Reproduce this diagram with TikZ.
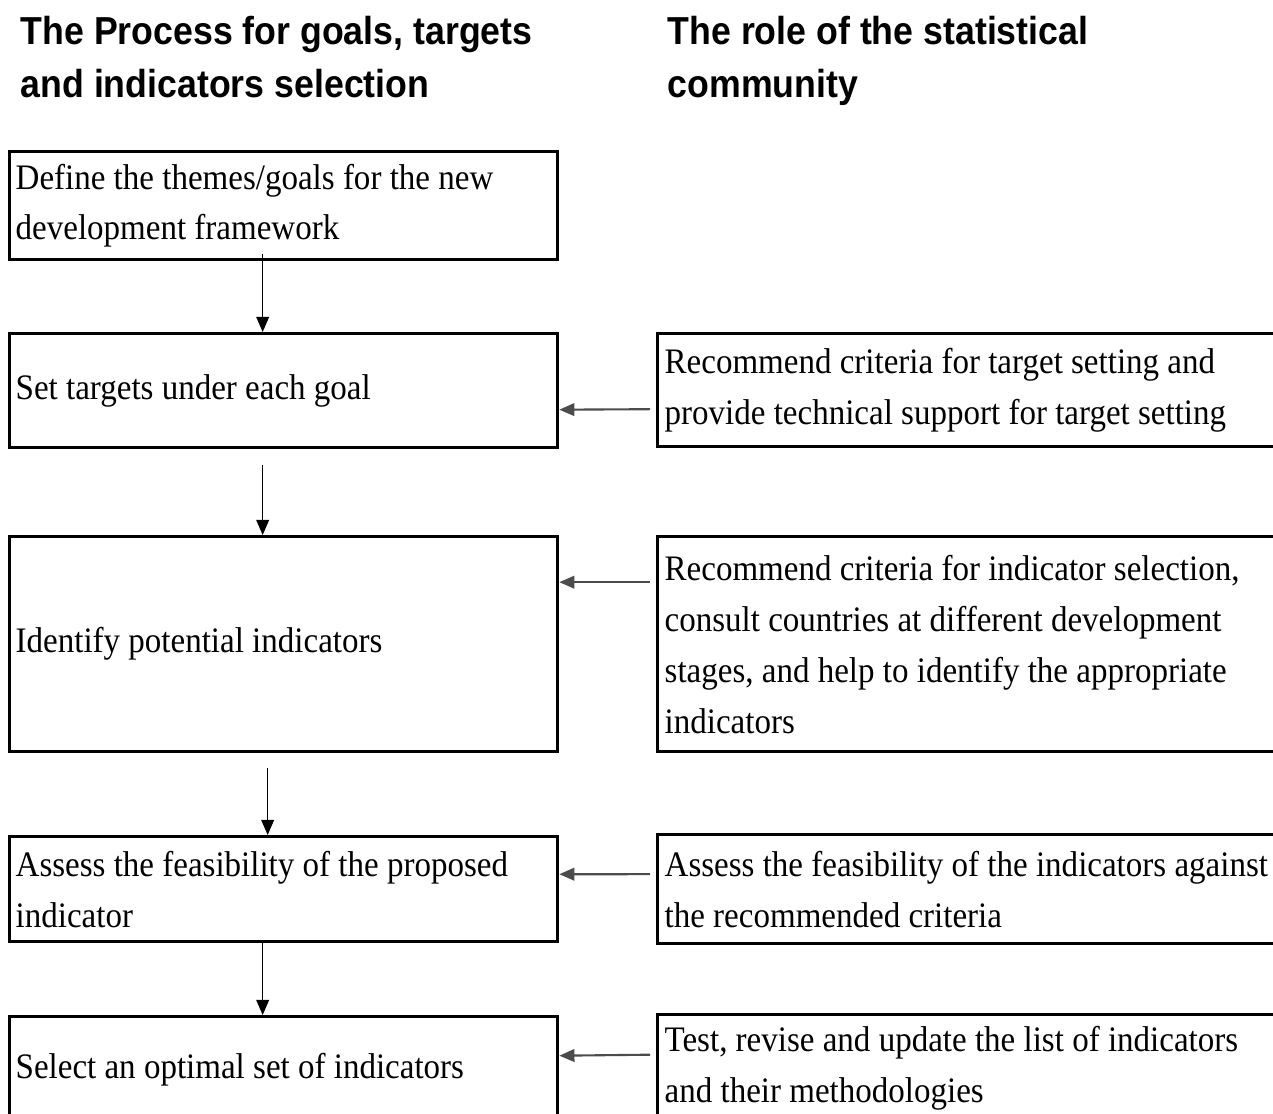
\documentclass[tikz,border=0pt]{standalone}
\usepackage{fontspec}
\setmainfont{Liberation Serif}[FakeStretch=0.921]
\newfontfamily\headfont{Liberation Sans}[FakeStretch=0.915]
\usetikzlibrary{arrows.meta}

\tikzset{
	procbox/.style={draw, line width=0.95pt, anchor=north west, align=flush left,
		text width=5.36cm, inner xsep=0.6mm, inner ysep=0pt,
		font=\fontsize{10.2}{14.5}\selectfont},
	rolebox/.style={procbox, text width=6.26cm, inner xsep=0.7mm},
	head/.style={anchor=base west, align=left, inner sep=0pt,
		font=\headfont\bfseries\fontsize{11.1}{14.8}\selectfont},
	flow/.style={-{Triangle[length=4.3pt,width=3.6pt]}, line width=0.45pt},
	feed/.style={flow, draw=black!70, line width=0.6pt},
}

\begin{document}
\begin{tikzpicture}
	\useasboundingbox (0,0) rectangle (12.73,-11.13) ;
		\node[head] (h1) at (0.20,-0.97) {The Process for goals, targets\\and indicators selection} ;
		\node[head] (h2) at (6.67,-0.97) {The role of the statistical\\community} ;
		\node[procbox, minimum height=1.08cm] (b1) at (0.08,-1.50) {Define the themes/goals for the new\\development framework} ;
		\node[procbox, minimum height=1.14cm] (b2) at (0.08,-3.32) {Set targets under each goal} ;
		\node[procbox, minimum height=2.15cm] (b3) at (0.08,-5.35) {Identify potential indicators} ;
		\node[procbox, minimum height=1.05cm] (b4) at (0.08,-8.35) {Assess the feasibility of the proposed\\indicator} ;
		\node[procbox, minimum height=1.06cm] (b5) at (0.08,-10.15) {Select an optimal set of indicators} ;
		\node[rolebox, minimum height=1.13cm] (r2) at (6.56,-3.32) {Recommend criteria for target setting and\\provide technical support for target setting} ;
		\node[rolebox, minimum height=2.15cm] (r3) at (6.56,-5.35) {Recommend criteria for indicator selection,\\consult countries at different development\\stages, and help to identify the appropriate\\indicators} ;
		\node[rolebox, minimum height=1.09cm] (r4) at (6.56,-8.33) {Assess the feasibility of the indicators against\\the recommended criteria} ;
		\node[rolebox, minimum height=1.08cm] (r5) at (6.56,-10.13) {Test, revise and update the list of indicators\\and their methodologies} ;
	\draw[flow] ([xshift=-2.1mm,yshift=0.7mm]b1.south) -- ([xshift=-2.1mm]b2.north) ;
	\draw[flow] ([xshift=-2.1mm,yshift=-1.6mm]b2.south) -- ([xshift=-2.1mm]b3.north) ;
	\draw[flow] ([xshift=-1.6mm,yshift=-1.5mm]b3.south) -- ([xshift=-1.6mm]b4.north) ;
	\draw[flow] ([xshift=-2.1mm]b4.south) -- ([xshift=-2.1mm]b5.north) ;
	\draw[feed] ([xshift=-0.6mm,yshift=-1.9mm]r2.west) -- ([yshift=-1.9mm]b2.east) ;
	\draw[feed] ([xshift=-0.6mm,yshift=6.2mm]r3.west) -- ([yshift=6.2mm]b3.east) ;
	\draw[feed] ([xshift=-0.6mm,yshift=1.5mm]r4.west) -- ([yshift=1.5mm]b4.east) ;
	\draw[feed] ([xshift=-0.6mm,yshift=1.4mm]r5.west) -- ([yshift=1.4mm]b5.east) ;
\end{tikzpicture}
\end{document}
